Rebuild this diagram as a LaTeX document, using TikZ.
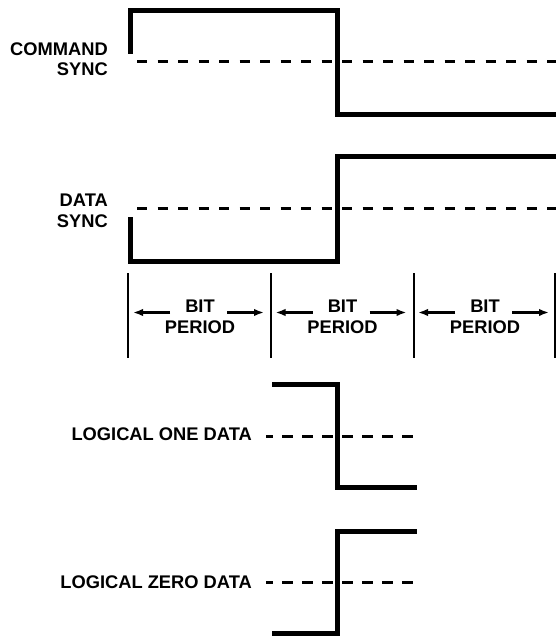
\documentclass[tikz,border=0pt]{standalone}
\usepackage{fontspec}
\setmainfont{Liberation Sans}
\usetikzlibrary{arrows.meta}
\begin{document}
\begin{tikzpicture}[x=1pt,y=-1pt,
  wave/.style={line width=5pt,line join=miter,line cap=butt},
  refline/.style={line width=3pt,dash pattern=on 10pt off 10.5pt},
  logref/.style={line width=3pt,dash pattern=on 11pt off 9pt,dash phase=4pt},
  tick/.style={line width=1.5pt},
  span/.style={line width=2.2pt,-{Latex[length=10pt,width=7.5pt]}},
  lab/.style={font=\fontsize{18.3}{20.5}\selectfont\bfseries,inner sep=0pt},
  bit/.style={lab,align=center}]
\useasboundingbox (0,0) rectangle (556,636);
% command sync
\coordinate (c0) at (130,54);
\coordinate (c1) at (130,11);
\coordinate (c2) at (337,11);
\coordinate (c3) at (337,115);
\coordinate (c4) at (556,115);
\draw[wave] (c0) -- (c1) -- (c2) -- (c3) -- (c4);
\coordinate (cd0) at (137,62);
\coordinate (cd1) at (556,62);
\draw[refline] (cd0) -- (cd1);
\node[lab,align=right,anchor=east] (cmd) at (108,59) {COMMAND\\SYNC};
% data sync
\coordinate (d0) at (130,217);
\coordinate (d1) at (130,261);
\coordinate (d2) at (337,261);
\coordinate (d3) at (337,157);
\coordinate (d4) at (556,157);
\draw[wave] (d0) -- (d1) -- (d2) -- (d3) -- (d4);
\coordinate (dd0) at (137,209);
\coordinate (dd1) at (556,209);
\draw[refline] (dd0) -- (dd1);
\node[lab,align=right,anchor=east] (dat) at (108,211) {DATA\\SYNC};
% bit periods
\foreach \i/\x in {0/128,1/271,2/414,3/555}{
  \coordinate (t\i a) at (\x,273);
  \coordinate (t\i b) at (\x,358);
  \draw[tick] (t\i a) -- (t\i b);
}
\foreach \i/\x in {0/200,1/342.5,2/485}{
  \node[bit] (b\i) at (\x,317) {BIT\\PERIOD};
  \coordinate (l\i a) at (\x-30,312.5);
  \coordinate (l\i b) at (\x-67,312.5);
  \coordinate (r\i a) at (\x+27,312.5);
  \coordinate (r\i b) at (\x+64,312.5);
  \draw[span] (l\i a) -- (l\i b);
  \draw[span] (r\i a) -- (r\i b);
}
% logical one
\coordinate (o0) at (272,384);
\coordinate (o1) at (337,384);
\coordinate (o2) at (337,487);
\coordinate (o3) at (417,487);
\draw[wave] (o0) -- (o1) -- (o2) -- (o3);
\coordinate (od0) at (266,436);
\coordinate (od1) at (417,436);
\draw[logref] (od0) -- (od1);
\node[lab,anchor=east] (one) at (252,434) {LOGICAL ONE DATA};
% logical zero
\coordinate (z0) at (272,633);
\coordinate (z1) at (337,633);
\coordinate (z2) at (337,531);
\coordinate (z3) at (417,531);
\draw[wave] (z0) -- (z1) -- (z2) -- (z3);
\coordinate (zd0) at (266,582);
\coordinate (zd1) at (417,582);
\draw[logref] (zd0) -- (zd1);
\node[lab,anchor=east] (zero) at (252,582) {LOGICAL ZERO DATA};
\end{tikzpicture}
\end{document}
